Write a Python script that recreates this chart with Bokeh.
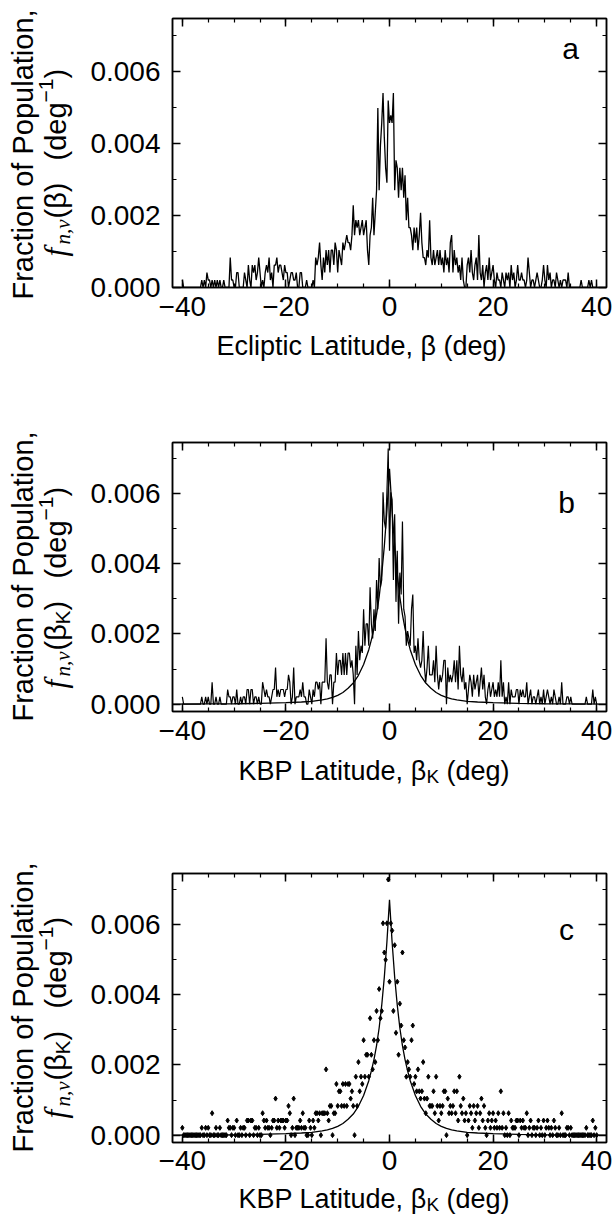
import math
import numpy as np
from bokeh.plotting import figure
from bokeh.layouts import column, row
from bokeh.models import Range1d, FixedTicker, LinearAxis, Label, CustomJSTickFormatter
from bokeh.core.properties import value
from bokeh.embed import file_html
from bokeh.resources import INLINE

# ---------------- data ----------------
# one histogram step (one object per bin) in fraction-of-population units
UNIT = 0.000208

# bin centres, 0.25 deg apart
beta = np.round(np.arange(-40.0, 40.001, 0.25), 2)

# panel a: ecliptic latitude, counts per bin
counts_ecliptic = [
    1,0,0,0, 0,0,0,0, 0,0,0,0, 0,0,0,1, 0,1,0,2, 1,1,0,1, 0,1,0,1, 0,1,0,0, 1,0,0,0, 0,4,1,1,
    0,0,2,2, 0,0,0,0, 2,1,0,3, 1,0,3,2, 3,1,2,4, 2,0,1,0, 2,3,2,4, 1,2,0,3, 3,4,2,3, 3,2,1,3,
    2,2,0,1, 2,2,1,1, 2,0,0,2, 2,0,0,0, 1,0,0,0, 0,1,0,4, 3,4,6,3, 1,4,2,5, 3,5,2,5, 5,3,6,5,
    2,5,4,3, 6,5,6,7, 6,6,5,7, 11,7,9,8, 9,7,8,9, 7,8,9,5, 3,7,8,12, 7,10,13,24, 13,19,22,26, 20,16,14,25,
    22,23,22,26, 13,17,16,12, 16,13,16,12, 15,9,12,8, 8,7,5,8, 6,8,5,7, 10,6,4,4, 3,5,4,9, 4,3,5,3, 4,5,3,5,
    3,4,2,5, 3,4,2,6, 7,2,5,3, 4,2,3,1, 4,1,0,0, 3,4,2,5, 2,1,3,4, 1,7,2,1, 3,0,2,3, 1,4,1,2,
    3,1,0,2, 1,1,0,2, 1,0,2,1, 2,0,3,1, 2,0,1,3, 1,1,2,1, 1,0,1,4, 2,0,1,1, 0,1,2,1, 0,0,1,3,
    1,0,3,1, 2,0,1,1, 0,2,1,0, 1,0,1,1, 1,0,2,0, 0,0,0,0, 0,0,0,0, 1,0,0,0, 0,0,1,0, 1,0,0,0,
    0,
]

# panels b and c: KBP latitude, counts per bin
counts_kbp = [
    1,0,0,0, 0,0,0,0, 0,0,0,0, 0,0,0,1, 0,0,1,0, 1,0,0,3, 0,0,1,0, 0,1,0,0, 0,0,0,2, 1,1,0,1,
    1,0,2,0, 0,1,0,1, 1,0,2,2, 0,2,2,0, 1,1,0,1, 0,0,3,2, 1,2,1,1, 0,1,2,2, 5,1,2,1, 2,2,2,1,
    2,2,4,3, 0,1,5,0, 1,1,1,2, 1,3,1,1, 0,0,2,1, 0,2,1,3, 3,2,3,0, 3,3,3,9, 3,2,4,4, 0,3,3,7,
    4,6,6,4, 7,4,7,4, 7,7,5,6, 4,0,8,4, 10,6,8,7, 13,8,11,11, 8,16,11,9, 13,10,17,13, 20,16,17,29, 25,24,29,35,
    21,29,28,17, 26,14,21,11, 18,15,25,13, 12,8,10,9, 8,13,15,7, 8,6,9,6, 5,6,10,5, 3,5,8,4, 4,4,6,3, 8,4,2,4,
    3,4,6,6, 0,5,3,4, 3,4,6,3, 6,2,8,4, 3,5,2,3, 0,2,4,3, 1,4,2,3, 4,1,3,5, 2,4,1,0, 2,3,1,2,
    3,1,2,1, 3,1,6,1, 3,0,1,0, 3,0,2,1, 1,1,2,2, 0,2,1,2, 1,1,3,0, 1,2,0,1, 1,0,1,2, 0,1,0,2,
    0,1,2,1, 0,1,0,2, 1,0,0,1, 0,3,0,0, 0,1,1,0, 1,0,0,0, 0,0,0,0, 0,0,0,0, 1,0,0,0, 0,2,0,1,
    0,
]

# fitted model curve (panels b and c)
fit_beta = [-42, -35, -30, -25, -20, -17, -15, -13, -12, -11, -10, -9, -8, -7, -6, -5, -4, -3.5, -3,
            -2.5, -2, -1.5, -1, -0.75, -0.5, -0.25, 0, 0.25, 0.5, 0.75, 1, 1.5, 2, 2.5, 3, 3.5, 4,
            5, 6, 7, 8, 9, 10, 11, 12, 13, 15, 17, 20, 25, 30, 35, 42]
fit_f = [0.000002, 0.000005, 0.00001, 0.00002, 0.00004, 0.00006, 0.00008, 0.00012, 0.00015, 0.00019,
         0.00025, 0.00033, 0.00045, 0.0006, 0.00082, 0.00113, 0.00155, 0.00183, 0.00215, 0.00255,
         0.00305, 0.0037, 0.0045, 0.0050, 0.0055, 0.0061, 0.0067, 0.0061, 0.0055, 0.0050, 0.0045,
         0.0037, 0.00305, 0.00255, 0.00215, 0.00183, 0.00155, 0.00113, 0.00082, 0.0006, 0.00045,
         0.00033, 0.00025, 0.00019, 0.00015, 0.00012, 0.00008, 0.00006, 0.00004, 0.00002, 0.00001,
         0.000005, 0.000002]

x_ticks = [-40, -20, 0, 20, 40]
x_tick_labels = ["\u221240", "\u221220", "0", "20", "40"]
x_minor = [-40, -35, -30, -25, -20, -15, -10, -5, 0, 5, 10, 15, 20, 25, 30, 35, 40]
y_ticks = [0.0, 0.002, 0.004, 0.006]
y_tick_labels = ["0.000", "0.002", "0.004", "0.006"]
y_minor = [0.001, 0.003, 0.005, 0.007]

f_ecl = [c * UNIT for c in counts_ecliptic]
f_kbp = [c * UNIT for c in counts_kbp]

SANS = "Liberation Sans"
SERIF = "Liberation Serif"
TICK_PX = "28px"
BLANK = CustomJSTickFormatter(code="return ''")
R = math.pi / 2

LAB_W = 80           # left column holding the y titles (page x 0 .. 80)
PLOT_W = 534         # right column (page x 80 .. 614)
BL, BR = 92, 8       # identical side borders for every figure of the right column
FX0, FX1 = LAB_W + BL, LAB_W + PLOT_W - BR   # page x of the frames (172 .. 606)


def style_axis(ax, ticker, labels=None):
    ax.ticker = ticker
    ax.axis_line_color = "black"
    ax.axis_line_width = 1.5
    ax.major_tick_in = 8
    ax.major_tick_out = 0
    ax.minor_tick_in = 4
    ax.minor_tick_out = 0
    ax.major_tick_line_color = "black"
    ax.minor_tick_line_color = "black"
    ax.major_tick_line_width = 1.5
    ax.minor_tick_line_width = 1.2
    if labels is None:
        ax.formatter = BLANK
        ax.major_label_text_font_size = "1px"
        ax.major_label_standoff = 0
    else:
        ax.major_label_overrides = labels
        ax.major_label_text_font = SANS
        ax.major_label_text_font_size = TICK_PX
        ax.major_label_text_color = "black"


def make_fig(h, bt, bb, standoff, yr):
    p = figure(width=PLOT_W, height=h, x_range=Range1d(-41.9, 41.9), y_range=Range1d(*yr),
               output_backend="svg", toolbar_location=None,
               min_border_top=bt, min_border_bottom=bb, min_border_left=BL, min_border_right=BR,
               x_axis_location=None, y_axis_location=None)
    p.title.visible = False
    p.grid.visible = False
    p.outline_line_color = "black"
    p.outline_line_width = 1.5
    p.background_fill_color = "white"
    p.border_fill_color = "white"
    below = LinearAxis()
    style_axis(below, FixedTicker(ticks=x_ticks, minor_ticks=x_minor), dict(zip(x_ticks, x_tick_labels)))
    below.major_label_standoff = standoff
    left = LinearAxis()
    style_axis(left, FixedTicker(ticks=y_ticks, minor_ticks=y_minor), dict(zip(y_ticks, y_tick_labels)))
    left.major_label_standoff = 12
    above = LinearAxis()
    style_axis(above, FixedTicker(ticks=x_ticks, minor_ticks=x_minor))
    right = LinearAxis()
    style_axis(right, FixedTicker(ticks=y_ticks, minor_ticks=y_minor))
    p.add_layout(below, "below")
    p.add_layout(left, "left")
    p.add_layout(above, "above")
    p.add_layout(right, "right")
    return p


def canvas_fig(w, h, x0, x1, y_top, y_bot, bl=0, br=0):
    """Blank figure; its frame is mapped so that x / y are page pixels."""
    f = figure(width=w, height=h, x_range=Range1d(x0, x1), y_range=Range1d(-y_bot, -y_top),
               output_backend="svg", toolbar_location=None, min_border=0,
               min_border_left=bl, min_border_right=br, min_border_top=0, min_border_bottom=0,
               x_axis_location=None, y_axis_location=None)
    f.title.visible = False
    f.grid.visible = False
    f.outline_line_color = None
    f.background_fill_color = "white"
    f.border_fill_color = "white"
    return f


def put(f, text, x, y, size, angle=0.0, align="left", font=SANS, style="normal"):
    f.text(x=[x], y=[-y], text=[text], angle=angle, text_align=align, text_baseline="middle",
           text_font=value(font), text_font_size=value(f"{size}px"), text_font_style=style,
           text_color="black")


def letter(p, t, x, y):
    p.add_layout(Label(x=x, y=y, x_units="screen", y_units="screen", text=t, text_align="center",
                       text_baseline="middle", text_font=SANS, text_font_size="30px",
                       text_color="black"))


# ---------------- page rows (page y) ----------------
# plot a 0..330 | title a 330..398 | plot b 398..754 | title b 754..828 | plot c 828..1182 | title c 1182..1216
pa = make_fig(330, 18, 43, 9, (0.0, 0.00748))
pa.line(beta, f_ecl, line_color="black", line_width=1.3)
letter(pa, "a", 398, 239)

pb = make_fig(356, 44, 43, 9, (-0.00021, 0.00745))
pb.line(beta, f_kbp, line_color="black", line_width=1.2)
pb.line(fit_beta, fit_f, line_color="black", line_width=1.3)
letter(pb, "b", 394, 209)

pc = make_fig(354, 45, 40, 8, (-0.00021, 0.00745))
pc.scatter(beta, f_kbp, marker="diamond", size=5, fill_color="black", line_color="black")
pc.line(fit_beta, fit_f, line_color="black", line_width=1.3)
letter(pc, "c", 394, 213)

# ---------------- x titles ----------------
xa = canvas_fig(PLOT_W, 68, FX0, FX1, 330, 398, BL, BR)
put(xa, "Ecliptic Latitude, \u03b2 (deg)", 361, 345, 27, align="center")

xb = canvas_fig(PLOT_W, 74, FX0, FX1, 754, 828, BL, BR)
xc = canvas_fig(PLOT_W, 34, FX0, FX1, 1182, 1216, BL, BR)
for f, ty in ((xb, 770), (xc, 1198)):
    put(f, "KBP Latitude, \u03b2", 238, ty, 27)
    put(f, "K", 426, ty + 6, 19)
    put(f, "(deg)", 446, ty, 27)

# ---------------- y titles (one tall column on the left) ----------------
yl = canvas_fig(LAB_W, 1216, 0, LAB_W, 0, 1216)
for cy in (154, 576, 1007):
    put(yl, "Fraction of Population,", 22, cy, 29, angle=R, align="center")

X2 = 55
# panel a second line: f_{n,v}(beta) (deg^-1)
put(yl, "f", X2, 256, 31, angle=R, font=SERIF, style="italic")
put(yl, "n,\u03bd", X2 + 7, 244, 21, angle=R, font=SERIF, style="italic")
put(yl, "(\u03b2)", X2, 218, 29, angle=R)
put(yl, "(deg", X2, 160, 29, angle=R)
put(yl, "\u22121", X2 - 10, 102, 21, angle=R)
put(yl, ")", X2, 78, 29, angle=R)
# panels b, c second line: f_{n,v}(beta_K) (deg^-1)
for s in (688, 1118):
    put(yl, "f", X2, s, 31, angle=R, font=SERIF, style="italic")
    put(yl, "n,\u03bd", X2 + 7, s - 12, 21, angle=R, font=SERIF, style="italic")
    put(yl, "(\u03b2", X2, s - 38, 29, angle=R)
    put(yl, "K", X2 + 7, s - 64, 21, angle=R)
    put(yl, ")", X2, s - 78, 29, angle=R)
    put(yl, "(deg", X2, s - 110, 29, angle=R)
    put(yl, "\u22121", X2 - 10, s - 168, 21, angle=R)
    put(yl, ")", X2, s - 192, 29, angle=R)

right_col = column(pa, xa, pb, xb, pc, xc, spacing=0)
layout = row(yl, right_col, spacing=0)
open("out.html", "w").write(file_html(layout, INLINE))
